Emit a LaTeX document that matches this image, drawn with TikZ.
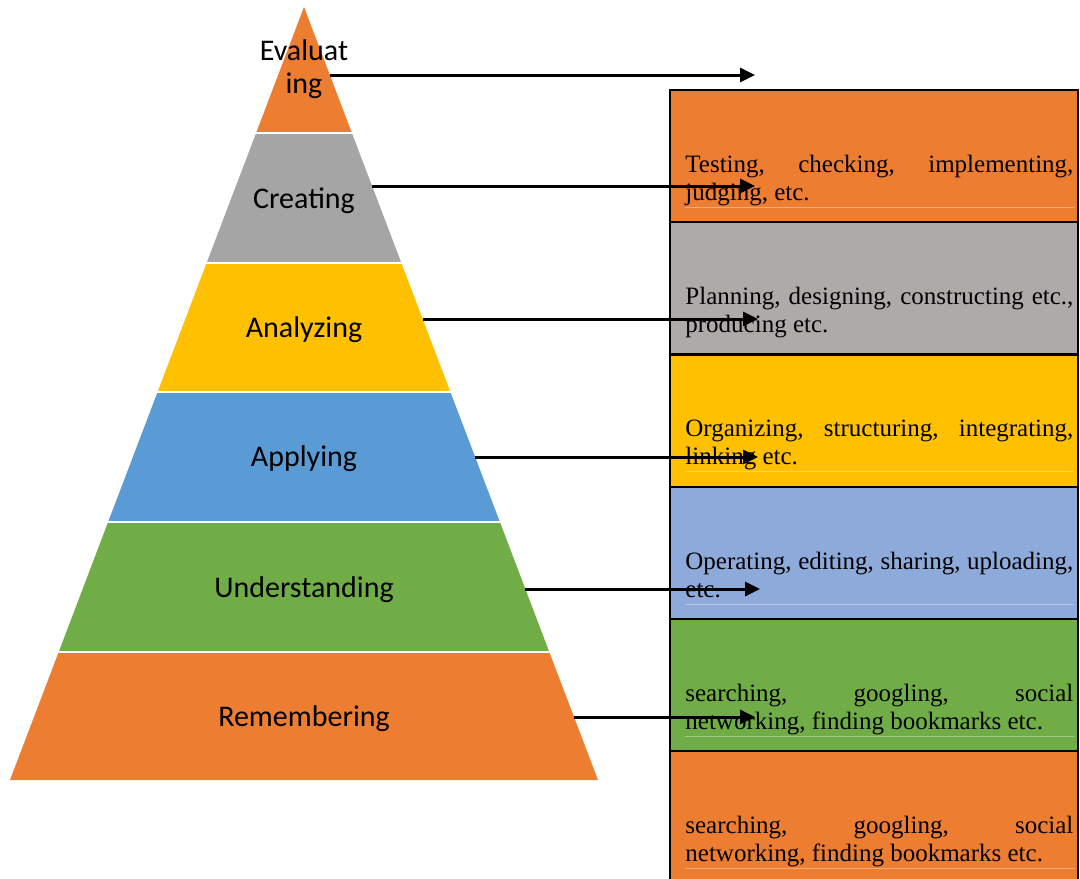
\documentclass[tikz,border=0pt]{standalone}
\usepackage{fontspec}
\setmainfont{Liberation Serif}
\newfontfamily\calibri{Carlito}
\usetikzlibrary{arrows.meta,positioning}

\definecolor{lvorange}{HTML}{ED7D31}
\definecolor{lvgray}{HTML}{A5A5A5}
\definecolor{lvyellow}{HTML}{FFC000}
\definecolor{lvblue}{HTML}{5B9BD5}
\definecolor{lvgreen}{HTML}{70AD47}
\definecolor{bxgray}{HTML}{AEAAAA}
\definecolor{bxblue}{HTML}{8EAADB}

\begin{document}
\begin{tikzpicture}[x=0.5pt,y=-0.5pt,
    gap/.style={draw=white,line width=1.3pt},
    level/.style={font=\calibri\fontsize{15}{16.5}\selectfont,inner sep=0pt},
    descbox/.style={draw=black,line width=1pt,minimum width=204pt,minimum height=66pt,inner sep=0pt,outer sep=0pt},
    desc/.style={text width=194pt,align=justify,inner sep=0pt,
        font=\fontsize{12.5}{14}\selectfont,
        execute at begin node={\tolerance=10000\hyphenpenalty=10000}},
    rule/.style={draw=white,opacity=.35,line width=.5pt},
    arr/.style={-{Triangle[length=7.5pt,width=7pt]},line width=1.5pt}]%
    \useasboundingbox (0,0) rectangle (1080,878);
    \clip (0,0) rectangle (1080,878);
    % pyramid, top to bottom
    \fill[lvorange] (304,7) -- (351.9,133) -- (256.1,133) -- cycle; %%
    \fill[lvgray] (256.1,133) -- (351.9,133) -- (401.4,263) -- (206.6,263) -- cycle; %%
    \fill[lvyellow] (206.6,263) -- (401.4,263) -- (450.4,392) -- (157.6,392) -- cycle; %%
    \fill[lvblue] (157.6,392) -- (450.4,392) -- (499.9,522) -- (108.1,522) -- cycle; %%
    \fill[lvgreen] (108.1,522) -- (499.9,522) -- (549.3,652) -- (58.7,652) -- cycle; %%
    \fill[lvorange] (58.7,652) -- (549.3,652) -- (598,780) -- (10,780) -- cycle; %%
    \foreach \y in {133,263,392,522,652}
        \draw[gap] (0,\y) -- (620,\y);
    \begin{scope}[every node/.style={level}]
    \node[align=center] (ev) at (304,69) {Evaluat\\ing}; %%
    \node[anchor=base] (cr) at (304,208) {Creating}; %%
    \node[anchor=base] (an) at (304,337) {Analyzing}; %%
    \node[anchor=base] (ap) at (304,466) {Applying}; %%
    \node[anchor=base] (un) at (304,597) {Understanding}; %%
    \node[anchor=base] (re) at (304,726) {Remembering}; %%
    \end{scope}
    % boxes on the right
    \node[descbox,fill=lvorange] (tbox) at (874,156) {}; %%
    \node[descbox,fill=bxgray] (pbox) at (874,288) {}; %%
    \node[descbox,fill=lvyellow] (obox) at (874,420.5) {}; %%
    \node[descbox,fill=bxblue] (opbox) at (874,553) {}; %%
    \node[descbox,fill=lvgreen] (sbox) at (874,685) {}; %%
    \node[descbox,fill=lvorange] (rbox) at (874,817) {}; %%
    \node[desc,below right=32.4pt and 7.5pt of tbox.north west] (ttxt) {Testing, checking, implementing, judging, etc.}; %%
    \node[desc,below right=32.4pt and 7.5pt of pbox.north west] (ptxt) {Planning, designing, constructing etc., producing etc.}; %%
    \node[desc,below right=32.4pt and 7.5pt of obox.north west] (otxt) {Organizing, structuring, integrating, linking etc.}; %%
    \node[desc,below right=32.4pt and 7.5pt of opbox.north west] (optxt) {Operating, editing, sharing, uploading, etc.}; %%
    \node[desc,below right=32.4pt and 7.5pt of sbox.north west] (stxt) {searching, googling, social\linebreak networking, finding bookmarks etc.}; %%
    \node[desc,below right=32.4pt and 7.5pt of rbox.north west] (rtxt) {searching, googling, social\linebreak networking, finding bookmarks etc.}; %%
    \foreach \b in {tbox,obox,opbox,sbox,rbox}
        \draw[rule] ([shift={(7.5pt,-58.5pt)}]\b.north west) -- ++(194.5pt,0pt);
    % arrows
    \coordinate (ev-r) at (330,75);  \coordinate (ev-t) at (755,75);
    \coordinate (cr-r) at (372,186); \coordinate (cr-t) at (755,186);
    \coordinate (an-r) at (423,319); \coordinate (an-t) at (758,319);
    \coordinate (ap-r) at (475,457); \coordinate (ap-t) at (758,457);
    \coordinate (un-r) at (525,589); \coordinate (un-t) at (760,589);
    \coordinate (re-r) at (574,717); \coordinate (re-t) at (755,717);
    \draw[arr] (ev-r)--(ev-t); %%
    \draw[arr] (cr-r)--(cr-t); %%
    \draw[arr] (an-r)--(an-t); %%
    \draw[arr] (ap-r)--(ap-t); %%
    \draw[arr] (un-r)--(un-t); %%
    \draw[arr] (re-r)--(re-t); %%
\end{tikzpicture}
\end{document}
